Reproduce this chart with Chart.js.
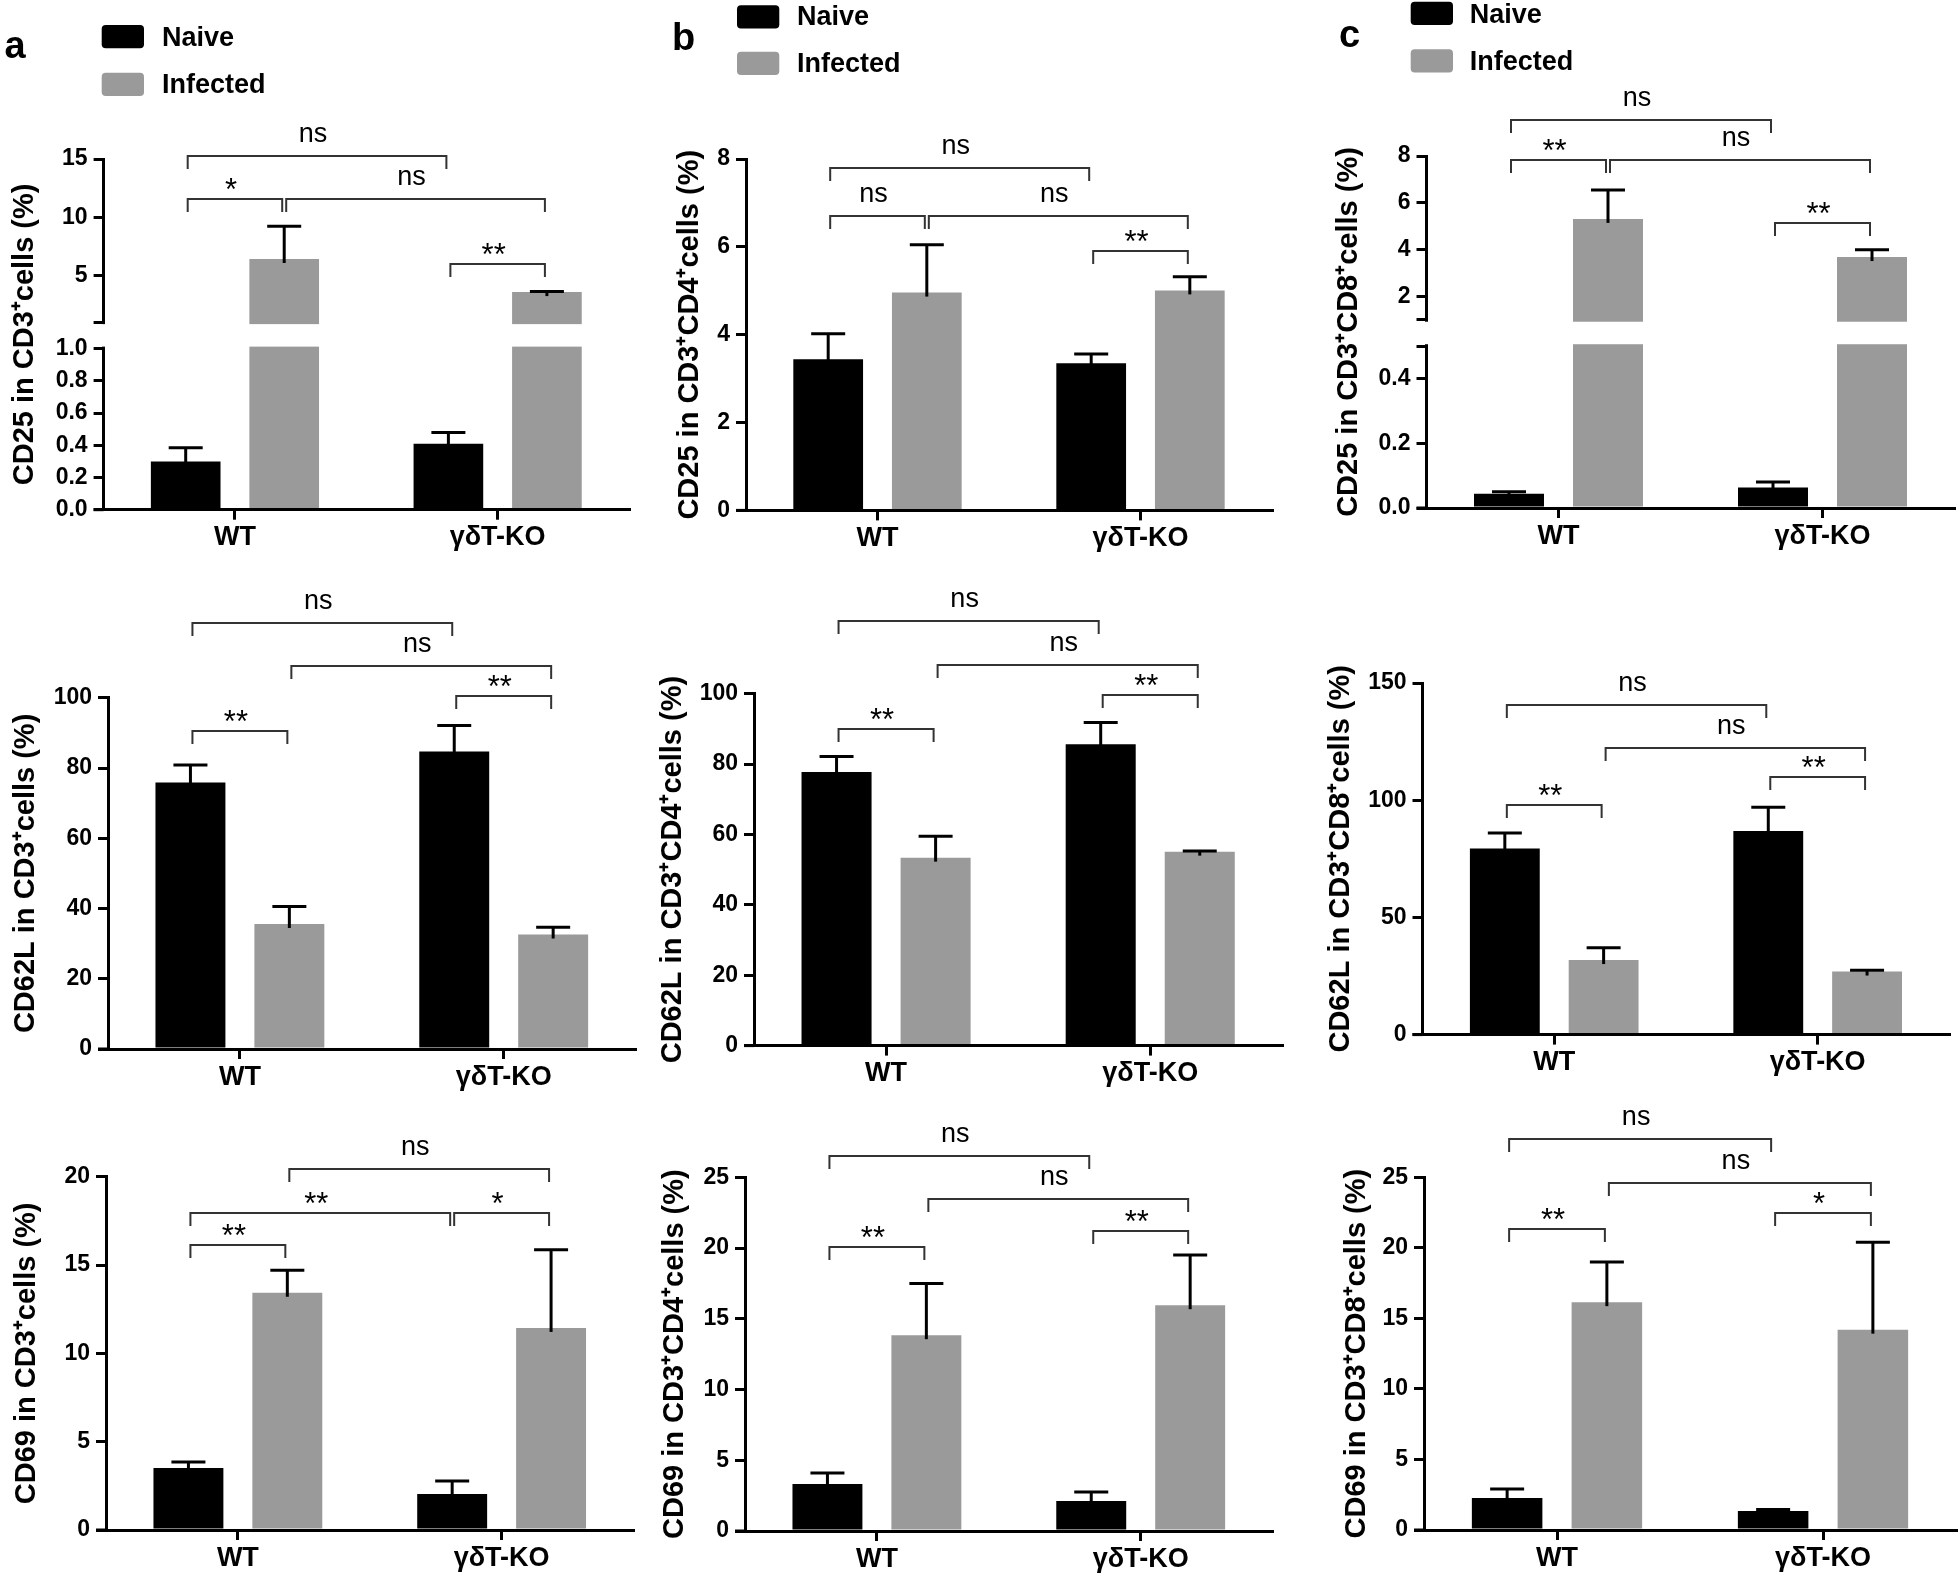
<!DOCTYPE html>
<html>
<head>
<meta charset="utf-8">
<title>CD25, CD62L and CD69 expression in WT and γδT-KO mice</title>
<script src="https://cdn.jsdelivr.net/npm/chart.js@4.4.1/dist/chart.umd.min.js"></script>
<style>
  html, body { margin:0; padding:0; background:#fff; }
  body { position:relative; width:1960px; height:1576px; overflow:hidden; }
  canvas { position:absolute; }
  #overlay { position:absolute; left:0; top:0; z-index:5; pointer-events:none; }
  #overlay text { font-family:'Liberation Sans', Arial, sans-serif; font-weight:bold; fill:#000; }
</style>
</head>
<body>
<svg id="overlay" width="1960" height="1576" xmlns="http://www.w3.org/2000/svg"></svg>
<script>
// ---------------- DATA ----------------
const groups = ['WT', 'γδT-KO'];
const seriesNames = ['Naive', 'Infected'];
const panelLetters = ['a', 'b', 'c'];

// a : CD3+ cells
const a1Naive = [0.30, 0.41],   a1NaiveSem = [0.085, 0.07];
const a1Inf   = [6.42, 3.58],   a1InfSem   = [2.81, 0.05];
const a2Naive = [75.9, 84.7],   a2NaiveSem = [5.0, 7.4];
const a2Inf   = [35.6, 32.6],   a2InfSem   = [5.0, 2.1];
const a3Naive = [3.51, 2.04],   a3NaiveSem = [0.34, 0.74];
const a3Inf   = [13.43, 11.44], a3InfSem   = [1.27, 4.42];
// b : CD3+CD4+ cells
const b1Naive = [3.44, 3.35],   b1NaiveSem = [0.58, 0.21];
const b1Inf   = [4.96, 5.01],   b1InfSem   = [1.09, 0.31];
const b2Naive = [77.7, 85.6],   b2NaiveSem = [4.4, 6.2];
const b2Inf   = [53.4, 55.1],   b2InfSem   = [6.1, 0.2];
const b3Naive = [3.32, 2.12],   b3NaiveSem = [0.78, 0.63];
const b3Inf   = [13.84, 15.96], b3InfSem   = [3.66, 3.54];
// c : CD3+CD8+ cells
const c1Naive = [0.044, 0.063], c1NaiveSem = [0.006, 0.017];
const c1Inf   = [5.31, 3.68],   c1InfSem   = [1.24, 0.31];
const c2Naive = [79.4, 86.9],   c2NaiveSem = [6.6, 10.1];
const c2Inf   = [31.8, 26.9],   c2InfSem   = [5.3, 0.5];
const c3Naive = [2.27, 1.35],   c3NaiveSem = [0.63, 0.10];
const c3Inf   = [16.15, 14.2],  c3InfSem   = [2.85, 6.2];

// y-axis ticks and labels
const a1Ticks = [0, 0.2, 0.4, 0.6, 0.8, 1.0, 5, 10, 15];
const a1TickLabels = ['0.0', '0.2', '0.4', '0.6', '0.8', '1.0', '5', '10', '15'];
const a1Break = { lowMax: 1.0, highMin: 1 };
const b1Ticks = [0, 2, 4, 6, 8];
const b1TickLabels = ['0', '2', '4', '6', '8'];
const c1Ticks = [0, 0.2, 0.4, 2, 4, 6, 8];
const c1TickLabels = ['0.0', '0.2', '0.4', '2', '4', '6', '8'];
const c1Break = { lowMax: 0.5, highMin: 1 };
const pctTicks = [0, 20, 40, 60, 80, 100];
const pctTickLabels = ['0', '20', '40', '60', '80', '100'];
const c2Ticks = [0, 50, 100, 150];
const c2TickLabels = ['0', '50', '100', '150'];
const a3Ticks = [0, 5, 10, 15, 20];
const a3TickLabels = ['0', '5', '10', '15', '20'];
const b3Ticks = [0, 5, 10, 15, 20, 25];
const b3TickLabels = ['0', '5', '10', '15', '20', '25'];

// significance brackets: [bar from, bar to, level (data units), label]
// bars: 0 = WT Naive, 1 = WT Infected, 2 = KO Naive, 3 = KO Infected
const a1Sig = [[0,2,15.3,'ns'],[0,1,11.6,'*'],[1,3,11.6,'ns'],[2,3,5.95,'**']];
const b1Sig = [[0,2,7.80,'ns'],[0,1,6.70,'ns'],[1,3,6.70,'ns'],[2,3,5.90,'**']];
const c1Sig = [[0,2,9.55,'ns'],[0,1,7.83,'**'],[1,3,7.83,'ns'],[2,3,5.14,'**']];
const a2Sig = [[0,2,121.4,'ns'],[1,3,109.0,'ns'],[2,3,100.5,'**'],[0,1,90.5,'**']];
const b2Sig = [[0,2,120.5,'ns'],[1,3,108.1,'ns'],[2,3,99.5,'**'],[0,1,90.0,'**']];
const c2Sig = [[0,2,140.8,'ns'],[1,3,122.4,'ns'],[2,3,109.9,'**'],[0,1,97.9,'**']];
const a3Sig = [[1,3,20.45,'ns'],[0,2,17.96,'**'],[2,3,17.96,'*'],[0,1,16.15,'**']];
const b3Sig = [[0,2,26.5,'ns'],[1,3,23.5,'ns'],[2,3,21.2,'**'],[0,1,20.1,'**']];
const c3Sig = [[0,2,27.7,'ns'],[1,3,24.6,'ns'],[2,3,22.45,'*'],[0,1,21.3,'**']];

const panels = [
  {id:'a1', title:'CD25 in CD3⁺cells (%)', naive:a1Naive, naiveSem:a1NaiveSem, inf:a1Inf, infSem:a1InfSem, min:0, max:15, ticks:a1Ticks, tickLabels:a1TickLabels, brk:a1Break, sig:a1Sig},
  {id:'b1', title:'CD25 in CD3⁺CD4⁺cells (%)', naive:b1Naive, naiveSem:b1NaiveSem, inf:b1Inf, infSem:b1InfSem, min:0, max:8, ticks:b1Ticks, tickLabels:b1TickLabels, sig:b1Sig},
  {id:'c1', title:'CD25 in CD3⁺CD8⁺cells (%)', naive:c1Naive, naiveSem:c1NaiveSem, inf:c1Inf, infSem:c1InfSem, min:0, max:8, ticks:c1Ticks, tickLabels:c1TickLabels, brk:c1Break, sig:c1Sig},
  {id:'a2', title:'CD62L in CD3⁺cells (%)', naive:a2Naive, naiveSem:a2NaiveSem, inf:a2Inf, infSem:a2InfSem, min:0, max:100, ticks:pctTicks, tickLabels:pctTickLabels, sig:a2Sig},
  {id:'b2', title:'CD62L in CD3⁺CD4⁺cells (%)', naive:b2Naive, naiveSem:b2NaiveSem, inf:b2Inf, infSem:b2InfSem, min:0, max:100, ticks:pctTicks, tickLabels:pctTickLabels, sig:b2Sig},
  {id:'c2', title:'CD62L in CD3⁺CD8⁺cells (%)', naive:c2Naive, naiveSem:c2NaiveSem, inf:c2Inf, infSem:c2InfSem, min:0, max:150, ticks:c2Ticks, tickLabels:c2TickLabels, sig:c2Sig},
  {id:'a3', title:'CD69 in CD3⁺cells (%)', naive:a3Naive, naiveSem:a3NaiveSem, inf:a3Inf, infSem:a3InfSem, min:0, max:20, ticks:a3Ticks, tickLabels:a3TickLabels, sig:a3Sig},
  {id:'b3', title:'CD69 in CD3⁺CD4⁺cells (%)', naive:b3Naive, naiveSem:b3NaiveSem, inf:b3Inf, infSem:b3InfSem, min:0, max:25, ticks:b3Ticks, tickLabels:b3TickLabels, sig:b3Sig},
  {id:'c3', title:'CD69 in CD3⁺CD8⁺cells (%)', naive:c3Naive, naiveSem:c3NaiveSem, inf:c3Inf, infSem:c3InfSem, min:0, max:25, ticks:b3Ticks, tickLabels:b3TickLabels, sig:c3Sig}
];

// ---------------- LAYOUT / STYLE ----------------
const FONT = "'Liberation Sans', Arial, sans-serif";
const seriesColors = ['#000000', '#9a9a9a'];
// plot area (L,R,T,B), y-title centre x, canvas top
const geom = {
  a1:{L:103.6, R:629,    T:159.1,  B:509.7,  tx:25,   top:0},
  b1:{L:746,   R:1272,   T:159.1,  B:510.4,  tx:690,  top:0},
  c1:{L:1426.5,R:1954.5, T:156,    B:508,    tx:1349, top:0},
  a2:{L:108,   R:635.6,  T:697.8,  B:1049,   tx:26,   top:560},
  b2:{L:754,   R:1282.3, T:693.6,  B:1045.6, tx:673,  top:560},
  c2:{L:1422.5,R:1949.4, T:683,    B:1034.6, tx:1341, top:560},
  a3:{L:106,   R:633.5,  T:1176.7, B:1530,   tx:27,   top:1100},
  b3:{L:745,   R:1272.6, T:1177.3, B:1531,   tx:675,  top:1100},
  c3:{L:1424,  R:1956,   T:1177.3, B:1530,   tx:1357, top:1100}
};
const breakStyle = { gap: 26.5, share: 0.497 };
const legendGeom = [
  {bx:101.7, by:[25, 72.7],  tx:162,    ty:[46, 93]},
  {bx:737,   by:[5.2, 51.7], tx:797,    ty:[25.2, 72.4]},
  {bx:1410.7,by:[1.7, 49.2], tx:1469.7, ty:[22.8, 70]}
];
const letterGeom = [{x:4.5, y:58}, {x:672, y:50}, {x:1339, y:46.5}];
const TITLE_SIZE = 29;

// ---------------- overlay: panel letters & legends ----------------
const svg = document.getElementById('overlay');
const NS = 'http://www.w3.org/2000/svg';
function svgEl(tag, attrs, text) {
  const e = document.createElementNS(NS, tag);
  for (const k in attrs) e.setAttribute(k, attrs[k]);
  if (text !== undefined) e.textContent = text;
  svg.appendChild(e);
  return e;
}
panelLetters.forEach((l, i) => {
  svgEl('text', {x: letterGeom[i].x, y: letterGeom[i].y, 'font-size': 38}, l);
  const g = legendGeom[i];
  seriesNames.forEach((s, k) => {
    svgEl('rect', {x: g.bx, y: g.by[k], width: 42.3, height: 23.2, rx: 4, ry: 4, fill: seriesColors[k]});
    svgEl('text', {x: g.tx, y: g.ty[k], 'font-size': 27}, s);
  });
});

// ---------------- broken y scale ----------------
const breakMap = new WeakMap();
class BrokenScale extends Chart.LinearScale {
  static id = 'broken';
  _segs() {
    const o = breakMap.get(this.chart.canvas);
    const avail = this.bottom - this.top - o.gap;
    const lowH = avail * o.share;
    return { o, lowH, highH: avail - lowH };
  }
  getPixelForValue(v) {
    const { o, lowH, highH } = this._segs();
    if (v <= o.lowMax) return this.bottom - (v - this.min) / (o.lowMax - this.min) * lowH;
    if (v >= o.highMin) return this.bottom - lowH - o.gap - (v - o.highMin) / (this.max - o.highMin) * highH;
    return this.bottom - lowH - (v - o.lowMax) / (o.highMin - o.lowMax) * o.gap;
  }
  getValueForPixel(px) {
    const { o, lowH, highH } = this._segs();
    const d = this.bottom - px;
    if (d <= lowH) return this.min + d / lowH * (o.lowMax - this.min);
    if (d >= lowH + o.gap) return o.highMin + (d - lowH - o.gap) / highH * (this.max - o.highMin);
    return o.lowMax + (d - lowH) / o.gap * (o.highMin - o.lowMax);
  }
}
Chart.register(BrokenScale);

Chart.defaults.font.family = FONT;
Chart.defaults.color = '#000';

// ---------------- annotation plugin (break gap, error bars, brackets) ----------------
function annotPlugin(p) {
  return {
    id: 'annot_' + p.id,
    afterDatasetsDraw(chart) {
      const ctx = chart.ctx, y = chart.scales.y, area = chart.chartArea;
      const barX = k => chart.getDatasetMeta(k % 2).data[Math.floor(k / 2)].x;
      ctx.save();
      if (p.brk) {
        const yLow = y.getPixelForValue(p.brk.lowMax);
        const yHigh = y.getPixelForValue(p.brk.highMin + 1e-6);
        ctx.fillStyle = '#fff';
        ctx.fillRect(area.left - 4, yHigh + 2, area.right - area.left + 10, yLow - yHigh - 4);
      }
      // x-axis line continues under the y-axis tick marks
      ctx.strokeStyle = '#000';
      ctx.lineWidth = 3;
      ctx.beginPath(); ctx.moveTo(area.left - 10, area.bottom); ctx.lineTo(area.left, area.bottom); ctx.stroke();
      // error bars (upper only)
      [[p.naive, p.naiveSem], [p.inf, p.infSem]].forEach(([vals, sems], di) => {
        chart.getDatasetMeta(di).data.forEach((bar, i) => {
          const yt = y.getPixelForValue(vals[i]);
          const ye = y.getPixelForValue(vals[i] + sems[i]);
          ctx.strokeStyle = '#000';
          ctx.lineWidth = 3;
          ctx.beginPath(); ctx.moveTo(bar.x, yt + 4); ctx.lineTo(bar.x, ye); ctx.stroke();
          ctx.beginPath(); ctx.moveTo(bar.x - 17, ye); ctx.lineTo(bar.x + 17, ye); ctx.stroke();
        });
      });
      // significance brackets
      p.sig.forEach(([a, b, lvl, lab]) => {
        const xa = barX(a) + 2, xb = barX(b) - 2;
        const yy = Math.round(y.getPixelForValue(lvl));
        ctx.strokeStyle = '#333';
        ctx.lineWidth = 2;
        ctx.beginPath();
        ctx.moveTo(xa, yy + 13); ctx.lineTo(xa, yy); ctx.lineTo(xb, yy); ctx.lineTo(xb, yy + 13);
        ctx.stroke();
        ctx.fillStyle = '#000';
        ctx.textAlign = 'center';
        ctx.textBaseline = 'alphabetic';
        const cx = (xa + xb) / 2 - 4;
        if (lab === 'ns') {
          ctx.font = '27px ' + FONT;
          ctx.fillText(lab, cx, yy - 14);
        } else {
          ctx.font = '31px ' + FONT;
          ctx.fillText(lab, cx, yy + 1);
        }
      });
      ctx.restore();
    }
  };
}

// ---------------- build charts ----------------
panels.forEach(p => {
  const g = geom[p.id];
  const left = Math.round(g.tx - TITLE_SIZE * 0.6);
  const top = g.top;
  const right = Math.min(1960, Math.ceil(g.R + 4));
  const bottom = Math.min(1576, Math.round(g.B + 56));
  const cv = document.createElement('canvas');
  cv.width = right - left; cv.height = bottom - top;
  cv.style.left = left + 'px'; cv.style.top = top + 'px';
  cv.style.width = (right - left) + 'px'; cv.style.height = (bottom - top) + 'px';
  document.body.appendChild(cv);

  const yW = g.L - left, padTop = g.T - top, padRight = right - g.R, xH = bottom - g.B;

  // tick objects
  const tickObjs = p.ticks.map((v, i) => ({ value: v, label: p.tickLabels[i] }));
  if (p.brk) {
    breakMap.set(cv, { lowMax: p.brk.lowMax, highMin: p.brk.highMin, gap: breakStyle.gap, share: breakStyle.share });
    if (!p.ticks.includes(p.brk.lowMax)) tickObjs.push({ value: p.brk.lowMax, label: '' });
    tickObjs.push({ value: p.brk.highMin + 1e-6, label: '' });
    tickObjs.sort((u, w) => u.value - w.value);
  }

  new Chart(cv, {
    type: 'bar',
    data: {
      labels: groups,
      datasets: [
        { label: seriesNames[0], data: p.naive, backgroundColor: seriesColors[0], borderWidth: 0 },
        { label: seriesNames[1], data: p.inf, backgroundColor: seriesColors[1], borderWidth: 0 }
      ]
    },
    options: {
      responsive: false,
      animation: false,
      devicePixelRatio: 1,
      events: [],
      barPercentage: 0.707,
      categoryPercentage: 0.75,
      layout: { padding: { top: padTop, right: padRight, left: 0, bottom: 0 } },
      plugins: { legend: { display: false }, tooltip: { enabled: false } },
      scales: {
        x: {
          type: 'category',
          offset: true,
          grid: { offset: false, drawOnChartArea: false, drawTicks: true, tickLength: 10, lineWidth: 3, color: '#000' },
          border: { display: true, width: 3, color: '#000', z: 1 },
          ticks: { font: { size: 27, weight: 'bold' }, color: '#000', padding: 2, maxRotation: 0, autoSkip: false },
          afterFit: s => { s.height = xH; }
        },
        y: {
          type: p.brk ? 'broken' : 'linear',
          min: p.min,
          max: p.max,
          grid: { drawOnChartArea: false, drawTicks: true, tickLength: 10, lineWidth: 3, color: '#000' },
          border: { display: true, width: 3, color: '#000' },
          ticks: {
            font: { size: 23, weight: 'bold' }, color: '#000', padding: 6, autoSkip: false,
            callback: (v, i) => (tickObjs[i] ? tickObjs[i].label : '')
          },
          afterBuildTicks: s => { s.ticks = tickObjs.map(t => ({ value: t.value })); },
          title: { display: true, text: p.title, font: { size: TITLE_SIZE, weight: 'bold' }, color: '#000', padding: 0 },
          afterFit: s => { s.width = yW; }
        }
      }
    },
    plugins: [annotPlugin(p)]
  });
});
</script>
</body>
</html>
